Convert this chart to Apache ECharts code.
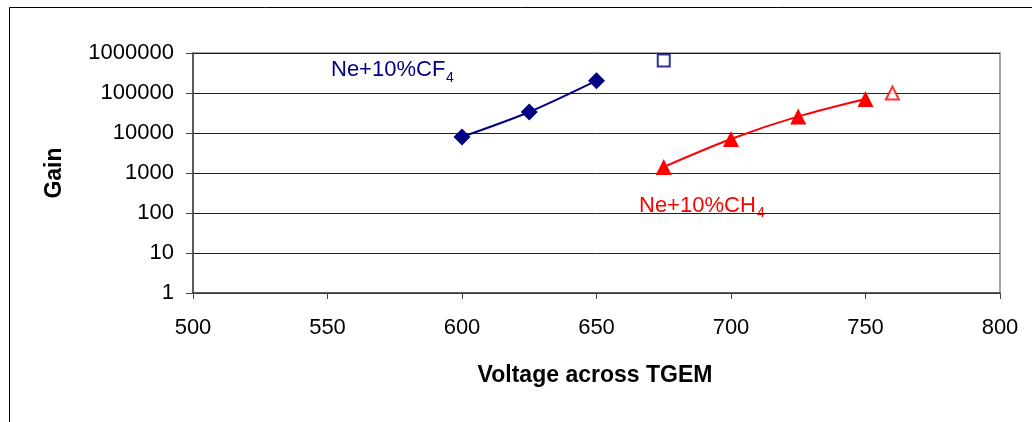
<!DOCTYPE html>
<html>
<head>
<meta charset="utf-8">
<script src="https://cdn.jsdelivr.net/npm/echarts@6/dist/echarts.min.js"></script>
<style>html,body{margin:0;padding:0;background:#fff;}#c{width:1032px;height:422px;}</style>
</head>
<body>
<div id="c"></div>
<script>
// Data
var xTicks = [500, 550, 600, 650, 700, 750, 800];
var yTicks = [1, 10, 100, 1000, 10000, 100000, 1000000];
var cf4Voltage = [600, 625, 650];
var cf4Gain = [8000, 33500, 203000];
var cf4OpenVoltage = [675];
var cf4OpenGain = [645000];
var ch4Voltage = [675, 700, 725, 750];
var ch4Gain = [1420, 7100, 26000, 71000];
var ch4OpenVoltage = [760];
var ch4OpenGain = [100000];

function pairs(xs, ys) { return xs.map(function (x, i) { return [x, ys[i]]; }); }

var FONT = '"Liberation Sans", Arial, sans-serif';
var chart = echarts.init(document.getElementById('c'), null, { renderer: 'canvas' });
chart.setOption({
  animation: false,
  backgroundColor: '#fff',
  grid: { left: 193, right: 32, top: 53, bottom: 129, show: true, borderColor: '#888', borderWidth: 1.5, backgroundColor: 'transparent' },
  xAxis: {
    type: 'value', min: xTicks[0], max: xTicks[xTicks.length - 1], interval: 50,
    axisLine: { show: true, onZero: false, lineStyle: { color: '#444', width: 1.5 } },
    axisTick: { show: true, length: 6, lineStyle: { color: '#444', width: 1 } },
    axisLabel: { color: '#000', fontFamily: FONT, fontSize: 22, margin: 24 },
    splitLine: { show: false }
  },
  yAxis: {
    type: 'log', logBase: 10, min: yTicks[0], max: yTicks[yTicks.length - 1],
    axisLine: { show: true, lineStyle: { color: '#444', width: 1.5 } },
    axisTick: { show: true, length: 7, lineStyle: { color: '#444', width: 1 } },
    axisLabel: { color: '#000', fontFamily: FONT, fontSize: 22, margin: 19,
      formatter: function (v) { return String(Math.round(v)); } },
    splitLine: { show: true, lineStyle: { color: '#222', width: 1 } },
    minorTick: { show: false }
  },
  series: [
    { type: 'line', data: pairs(cf4Voltage, cf4Gain), smooth: 0.3, symbol: 'diamond', symbolSize: 17,
      lineStyle: { color: '#000080', width: 2 }, itemStyle: { color: '#000080' }, z: 3 },
    { type: 'scatter', data: pairs(cf4OpenVoltage, cf4OpenGain), symbol: 'rect', symbolSize: 12,
      itemStyle: { color: '#fff', borderColor: '#000080', borderWidth: 2 }, z: 3 },
    { type: 'line', data: pairs(ch4Voltage, ch4Gain), smooth: 0.3, symbol: 'triangle', symbolSize: 16,
      lineStyle: { color: '#ff0000', width: 2 }, itemStyle: { color: '#ff0000' }, z: 3 },
    { type: 'scatter', data: pairs(ch4OpenVoltage, ch4OpenGain), symbol: 'triangle', symbolSize: 13,
      itemStyle: { color: '#fff', borderColor: '#ff0000', borderWidth: 2 }, z: 3 }
  ],
  graphic: [
    { type: 'rect', shape: { x: 9.5, y: 7.5, width: 1100, height: 600 }, style: { fill: 'none', stroke: '#000', lineWidth: 1 }, silent: true, z: -1 },
    { type: 'text', x: 55, y: 173, rotation: Math.PI / 2,
      style: { text: 'Gain', font: 'bold 23px ' + FONT, fill: '#000', align: 'center', verticalAlign: 'middle' } },
    { type: 'text', x: 595, y: 376,
      style: { text: 'Voltage across TGEM', font: 'bold 23px ' + FONT, fill: '#000', align: 'center', verticalAlign: 'middle', letterSpacing: 1 } },
    { type: 'text', x: 331, y: 70,
      style: { text: 'Ne+10%CF', font: '22px ' + FONT, fill: '#000080', align: 'left', verticalAlign: 'middle' } },
    { type: 'text', x: 446, y: 78,
      style: { text: '4', font: '14px ' + FONT, fill: '#000080', align: 'left', verticalAlign: 'middle' } },
    { type: 'text', x: 639, y: 206,
      style: { text: 'Ne+10%CH', font: '22px ' + FONT, fill: '#ff0000', align: 'left', verticalAlign: 'middle' } },
    { type: 'text', x: 757, y: 213,
      style: { text: '4', font: '14px ' + FONT, fill: '#ff0000', align: 'left', verticalAlign: 'middle' } }
  ]
});
</script>
</body>
</html>
